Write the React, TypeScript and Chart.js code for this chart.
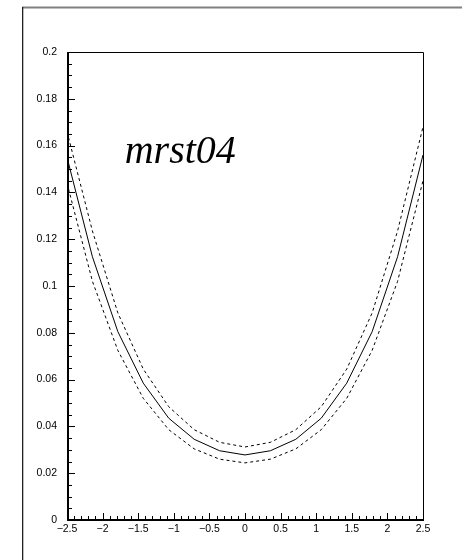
import React, { useEffect, useRef } from "react";
import { Chart, registerables } from "chart.js";

Chart.register(...registerables);

// rapidity grid points
const xValues = [-2.5, -2.143, -1.786, -1.429, -1.071, -0.714, -0.357, 0, 0.357, 0.714, 1.071, 1.429, 1.786, 2.143, 2.5];
// central prediction
const centralValues = [0.155, 0.1125, 0.0805, 0.0585, 0.0435, 0.0345, 0.0296, 0.0278, 0.0296, 0.0345, 0.0435, 0.0585, 0.0805, 0.1125, 0.156];
// upper error band
const upperValues = [0.166, 0.1235, 0.0885, 0.0645, 0.0484, 0.0386, 0.0332, 0.0312, 0.0332, 0.0386, 0.0484, 0.0645, 0.0885, 0.1235, 0.168];
// lower error band
const lowerValues = [0.144, 0.102, 0.0725, 0.052, 0.0386, 0.0304, 0.026, 0.0244, 0.026, 0.0304, 0.0386, 0.052, 0.0725, 0.102, 0.145];

const xTickValues = [-2.5, -2, -1.5, -1, -0.5, 0, 0.5, 1, 1.5, 2, 2.5];
const yTickValues = [0, 0.02, 0.04, 0.06, 0.08, 0.1, 0.12, 0.14, 0.16, 0.18, 0.2];
const labelText = "mrst04";

const toPoints = (ys: number[]) => xValues.map((x, i) => ({ x, y: ys[i] }));

const framePlugin = {
  id: "rootFrame",
  afterDraw(chart: any) {
    const ctx = chart.ctx;
    const { left, right, top, bottom } = chart.chartArea;
    const xs = chart.scales.x;
    const ys = chart.scales.y;
    ctx.save();
    // outer canvas frame
    ctx.fillStyle = "#808080";
    ctx.fillRect(22, 6.5, 440, 2);
    ctx.fillStyle = "#222";
    ctx.fillRect(22, 7, 1.3, 560);

    // plot frame
    ctx.strokeStyle = "#000";
    ctx.lineWidth = 1;
    ctx.beginPath();
    ctx.moveTo(left, top + 0.5);
    ctx.lineTo(right + 0.5, top + 0.5);
    ctx.lineTo(right + 0.5, bottom);
    ctx.stroke();
    ctx.lineWidth = 2;
    ctx.beginPath();
    ctx.moveTo(left + 1, top);
    ctx.lineTo(left + 1, bottom + 1);
    ctx.moveTo(left, bottom);
    ctx.lineTo(right + 1, bottom);
    ctx.stroke();

    // inward ticks
    ctx.lineWidth = 1;
    ctx.beginPath();
    const yMin = yTickValues[0];
    const yMax = yTickValues[yTickValues.length - 1];
    const ySub = (yTickValues[1] - yTickValues[0]) / 4;
    const nY = Math.round((yMax - yMin) / ySub);
    for (let i = 0; i <= nY; i++) {
      const py = Math.round(ys.getPixelForValue(yMin + i * ySub)) + 0.5;
      const len = i % 4 === 0 ? 6 : 3;
      ctx.moveTo(left, py);
      ctx.lineTo(left + 2 + len, py);
    }
    const xMin = xTickValues[0];
    const xMax = xTickValues[xTickValues.length - 1];
    const xSub = (xTickValues[1] - xTickValues[0]) / 5;
    const nX = Math.round((xMax - xMin) / xSub);
    for (let i = 0; i <= nX; i++) {
      const px = Math.round(xs.getPixelForValue(xMin + i * xSub)) + 0.5;
      const len = i % 5 === 0 ? 6 : 3;
      ctx.moveTo(px, bottom);
      ctx.lineTo(px, bottom - 1 - len);
    }
    ctx.stroke();

    // label
    ctx.fillStyle = "#000";
    ctx.font = "italic 40px 'Liberation Serif', 'Times New Roman', serif";
    ctx.textAlign = "left";
    ctx.textBaseline = "alphabetic";
    ctx.fillText(labelText, xs.getPixelForValue(-1.69), ys.getPixelForValue(0.1525));
    ctx.restore();
  },
};

const fmtX = (v: number) => {
  const s = String(Number(v.toFixed(2)));
  return s.replace("-", "\u2212");
};
const fmtY = (v: number) => String(Number(v.toFixed(3)));

export default function App() {
  const ref = useRef<HTMLCanvasElement | null>(null);
  useEffect(() => {
    if (!ref.current) return;
    const chart = new Chart(ref.current, {
      type: "scatter",
      data: {
        datasets: [
          {
            data: toPoints(upperValues),
            showLine: true,
            borderColor: "#000",
            borderWidth: 1,
            borderDash: [3, 3],
            pointRadius: 0,
            tension: 0,
          },
          {
            data: toPoints(lowerValues),
            showLine: true,
            borderColor: "#000",
            borderWidth: 1,
            borderDash: [3, 3],
            pointRadius: 0,
            tension: 0,
          },
          {
            data: toPoints(centralValues),
            showLine: true,
            borderColor: "#000",
            borderWidth: 1,
            pointRadius: 0,
            tension: 0,
          },
        ],
      },
      options: {
        animation: false,
        responsive: false,
        devicePixelRatio: 1,
        events: [],
        layout: { padding: { left: 0, top: 52, right: 43, bottom: 0 } },
        plugins: { legend: { display: false }, tooltip: { enabled: false }, title: { display: false } },
        scales: {
          x: {
            type: "linear",
            min: xTickValues[0],
            max: xTickValues[xTickValues.length - 1],
            border: { display: false },
            grid: { display: false, drawTicks: false },
            afterBuildTicks: (scale: any) => {
              scale.ticks = xTickValues.map((v) => ({ value: v }));
            },
            afterFit: (scale: any) => {
              scale.height = 40;
            },
            ticks: {
              autoSkip: false,
              maxRotation: 0,
              minRotation: 0,
              padding: 3,
              color: "#000",
              font: { family: "'Liberation Sans', Arial, sans-serif", size: 10.5 },
              callback: (v: any) => fmtX(Number(v)),
            },
          },
          y: {
            type: "linear",
            min: yTickValues[0],
            max: yTickValues[yTickValues.length - 1],
            border: { display: false },
            grid: { display: false, drawTicks: false },
            afterBuildTicks: (scale: any) => {
              scale.ticks = yTickValues.map((v) => ({ value: v }));
            },
            afterFit: (scale: any) => {
              scale.width = 67;
            },
            ticks: {
              autoSkip: false,
              padding: 10,
              color: "#000",
              font: { family: "'Liberation Sans', Arial, sans-serif", size: 10.5 },
              callback: (v: any) => fmtY(Number(v)),
            },
          },
        },
      },
      plugins: [framePlugin],
    });
    return () => chart.destroy();
  }, []);
  return (
    <div style={{ position: "absolute", left: 0, top: 0, width: 466, height: 560, background: "#fff" }}>
      <canvas ref={ref} width={466} height={560} style={{ display: "block" }} />
    </div>
  );
}
